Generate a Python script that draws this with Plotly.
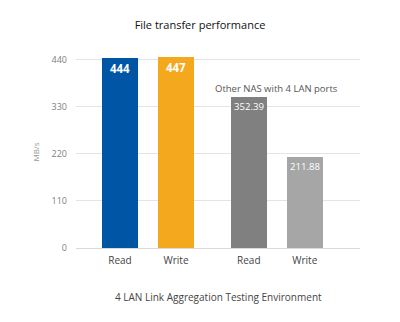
import plotly.graph_objects as go

categories = ["Read", "Write", "Read", "Write"]
values = [444, 447, 352.39, 211.88]
labels = ["<b>444</b>", "<b>447</b>", "352.39", "211.88"]
colors = ["#0056a4", "#f4a81d", "#808080", "#a6a6a6"]
positions = [0, 1, 2.3, 3.3]
y_ticks = [0, 110, 220, 330, 440]

fig = go.Figure()
fig.add_trace(go.Bar(
    x=positions, y=values, text=labels, width=0.64,
    marker=dict(color=colors, line=dict(width=0)),
    textposition="inside", insidetextanchor="end",
    textfont=dict(color="white", size=[11.5, 11.5, 10.5, 10.5], family="Open Sans"),
    textangle=0, cliponaxis=False, hoverinfo="skip",
))

fig.update_layout(
    width=400, height=322,
    margin=dict(l=76, r=40, t=56, b=74),
    plot_bgcolor="white", paper_bgcolor="white",
    showlegend=False,
    font=dict(family="Open Sans", color="#595959"),
    title=dict(text="File transfer performance", x=0.5, xanchor="center",
               y=1 - 25 / 322, yanchor="middle",
               font=dict(size=11, color="#111111", family="Open Sans")),
    xaxis=dict(range=[-0.786, 4.286], tickmode="array", tickvals=positions,
               ticktext=categories, showgrid=False, zeroline=False,
               showline=False, ticks="", ticklabelstandoff=5,
               tickfont=dict(size=10, color="#444444")),
    yaxis=dict(range=[0, 449], tickmode="array", tickvals=y_ticks,
               showgrid=True, gridcolor="#e4e4e4", gridwidth=1,
               zeroline=True, zerolinecolor="#d9d9d9", zerolinewidth=1,
               showline=False, ticks="", ticklen=0, ticklabelstandoff=8,
               tickfont=dict(size=9, color="#808080"),
               title=dict(text="MB/s", font=dict(size=8, color="#999999"), standoff=10)),
    bargap=0,
)

fig.add_annotation(text="Other NAS with 4 LAN ports", x=2.8, y=372, xref="x", yref="y",
                   showarrow=False, yanchor="middle",
                   font=dict(size=9.5, color="#555555"))
fig.add_annotation(text="4 LAN Link Aggregation Testing Environment", x=0.5, y=-49 / 192,
                   xref="paper", yref="paper", showarrow=False, yanchor="middle",
                   font=dict(size=10, color="#444444"))

fig.write_html("out.html")
